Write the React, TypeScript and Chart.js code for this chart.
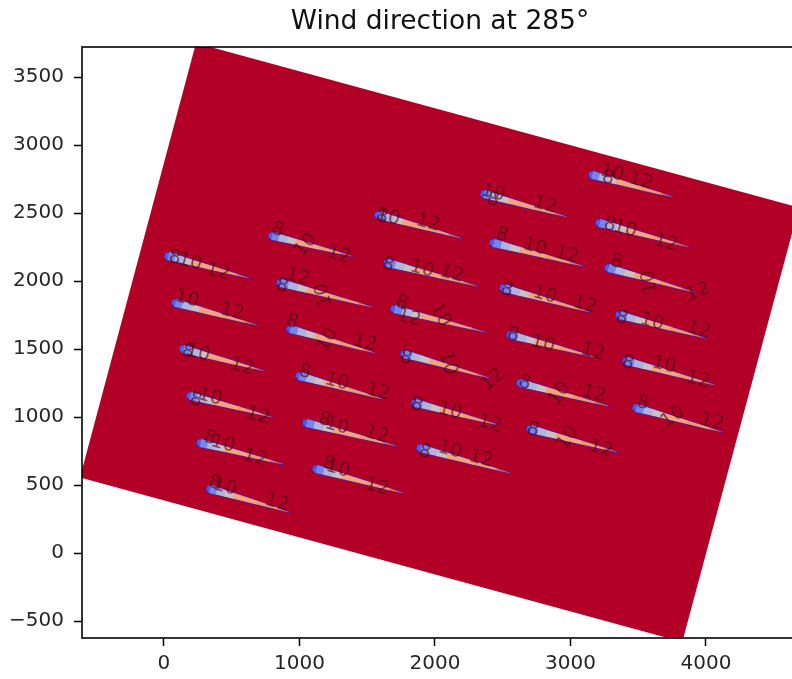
import React, { useEffect, useRef } from "react";
import { Chart, registerables } from "chart.js";

Chart.register(...registerables);

const FONT = '"DejaVu Sans", sans-serif';
const titleText = "Wind direction at 285°";
const xTicks = [0, 1000, 2000, 3000, 4000];
const yTicks = [-500, 0, 500, 1000, 1500, 2000, 2500, 3000, 3500];

// rotated simulation domain, data coordinates
const domainCorners = [
  { x: 236, y: 3750 },
  { x: 4686, y: 2541 },
  { x: 3825, y: -654 },
  { x: -620, y: 555 },
];
const domainColour = "#b20026";

// wake start and wake end per turbine: [x0, y0, x1, y1]
const wakes = [
  [7, 2191, 627, 2022], [59, 1846, 686, 1676], [118, 1507, 745, 1338],
  [170, 1162, 797, 1000], [244, 816, 878, 654], [317, 478, 923, 301],
  [775, 2338, 1387, 2184], [834, 1993, 1535, 1809], [908, 1654, 1557, 1471],
  [974, 1309, 1616, 1132], [1026, 963, 1712, 787], [1099, 625, 1764, 441],
  [1557, 2493, 2192, 2316], [1624, 2140, 2310, 1963], [1675, 1801, 2369, 1625],
  [1749, 1471, 2399, 1287], [1830, 1110, 2472, 941], [1867, 779, 2554, 588],
  [2339, 2647, 2974, 2471], [2406, 2287, 3092, 2110], [2480, 1956, 3144, 1772],
  [2531, 1610, 3181, 1441], [2605, 1257, 3277, 1081], [2679, 919, 3343, 743],
  [3137, 2787, 3756, 2618], [3188, 2434, 3875, 2250], [3255, 2103, 3911, 1919],
  [3336, 1757, 3993, 1581], [3387, 1419, 4066, 1235], [3461, 1074, 4118, 890],
];

// wake profile along its length
const wakeStations = [0, 0.04, 0.12, 0.22, 0.32, 0.6, 0.85, 1];
const wakeHalfWidths = [16, 30, 27, 24, 21, 14, 7, 1];
const wakeColours = ["#4a5cf0", "#7486ea", "#aeb4dc", "#c9c2c0", "#f2a57c", "#f0996a", "#e8764f"];
const wakeEdgeColour = "#6a1488";
const wakeEdgeExtra = 7;

// contour labels: [text, x, y, rotation in degrees]
const contourLabels: [string, number, number, number][] = [
  ["8", 81, 2169, 15], ["10", 192, 2140, 15], ["12", 399, 2066, 15],
  ["10", 170, 1868, 15], ["12", 502, 1772, 15],
  ["8", 177, 1478, 15], ["10", 251, 1471, 15], ["12", 576, 1368, 15],
  ["8", 236, 1125, 15], ["10", 339, 1147, 15], ["12", 694, 1007, 15],
  ["8", 339, 846, 15], ["10", 435, 801, 15], ["12", 672, 699, 15],
  ["8", 376, 515, 15], ["10", 450, 485, 15], ["12", 834, 368, 15],
  ["8", 841, 2375, 15], ["10", 1048, 2265, -50], ["12", 1292, 2191, 15],
  ["8", 871, 1963, 15], ["12", 989, 2029, 15], ["10", 1181, 1897, -100],
  ["8", 945, 1699, 15], ["10", 1210, 1566, -60], ["12", 1483, 1544, 15],
  ["8", 1041, 1331, 15], ["10", 1277, 1257, 15], ["12", 1579, 1184, 15],
  ["8", 1188, 978, 15], ["10", 1277, 934, 15], ["12", 1572, 868, 15],
  ["8", 1218, 654, 15], ["10", 1284, 618, 15], ["12", 1572, 485, 15],
  ["8", 1609, 2471, 15], ["10", 1653, 2471, 15], ["12", 1948, 2426, 15],
  ["8", 1653, 2118, 15], ["10", 1904, 2088, 15], ["12", 2125, 2051, 15],
  ["8", 1756, 1838, 15], ["12", 1808, 1728, 15], ["10", 2037, 1750, 60],
  ["8", 1786, 1434, 15], ["10", 2096, 1397, 75], ["12", 2428, 1272, -40],
  ["8", 1867, 1088, 15], ["10", 2111, 1044, 15], ["12", 2406, 949, 15],
  ["8", 1926, 743, 15], ["10", 2111, 757, 15], ["12", 2339, 691, 15],
  ["10", 2428, 2647, 15], ["8", 2428, 2596, 15], ["12", 2812, 2559, 15],
  ["8", 2494, 2338, 15], ["10", 2738, 2250, 15], ["12", 2974, 2191, 15],
  ["8", 2531, 1934, 15], ["10", 2812, 1897, 15], ["12", 3107, 1824, 15],
  ["8", 2576, 1603, 15], ["10", 2797, 1537, 15], ["12", 3166, 1478, 15],
  ["8", 2664, 1250, 15], ["10", 2922, 1169, -55], ["12", 3173, 1169, 15],
  ["8", 2723, 904, 15], ["10", 2982, 846, -55], ["12", 3225, 765, 15],
  ["10", 3306, 2794, 15], ["8", 3277, 2757, 15], ["12", 3520, 2735, 15],
  ["8", 3291, 2412, 15], ["10", 3402, 2382, 15], ["12", 3705, 2279, 15],
  ["8", 3343, 2140, 15], ["10", 3587, 1993, -100], ["12", 3941, 1919, -20],
  ["8", 3380, 1728, 15], ["10", 3601, 1699, 15], ["12", 3948, 1640, 15],
  ["8", 3424, 1397, 15], ["10", 3690, 1382, 15], ["12", 3941, 1272, 15],
  ["8", 3535, 1103, 15], ["10", 3756, 1000, -35], ["12", 4044, 963, 15],
];

function polygon(points: { x: number; y: number }[], colour: string) {
  return {
    type: "line" as const,
    data: [...points, points[0]],
    parsing: false,
    fill: "shape",
    backgroundColor: colour,
    borderColor: colour,
    borderWidth: 0,
    pointRadius: 0,
    tension: 0,
  };
}

function wakeDatasets(wake: number[]) {
  const [x0, y0, x1, y1] = wake;
  const dx = x1 - x0;
  const dy = y1 - y0;
  const len = Math.hypot(dx, dy);
  const nx = -dy / len;
  const ny = dx / len;
  const at = (s: number, w: number) => ({
    x: x0 + dx * s + nx * w,
    y: y0 + dy * s + ny * w,
  });
  const out: any[] = [];
  const top = wakeStations.map((s, i) => at(s, wakeHalfWidths[i] + wakeEdgeExtra));
  const bottom = wakeStations.map((s, i) => at(s, -wakeHalfWidths[i] - wakeEdgeExtra)).reverse();
  out.push(polygon([at(-0.012, 0), ...top, at(1.03, 0), ...bottom], wakeEdgeColour));
  wakeColours.forEach((colour, i) => {
    const a = wakeStations[i];
    const b = wakeStations[i + 1];
    const overlap = Math.min(b + 0.01, 1);
    out.push(
      polygon(
        [
          at(a, wakeHalfWidths[i]),
          at(overlap, wakeHalfWidths[i + 1]),
          at(overlap, -wakeHalfWidths[i + 1]),
          at(a, -wakeHalfWidths[i]),
        ],
        colour,
      ),
    );
  });
  return out;
}

const overlayPlugin = {
  id: "overlay",
  afterDatasetsDraw(chart: any) {
    const { ctx, chartArea, scales } = chart;
    ctx.save();
    ctx.beginPath();
    ctx.rect(chartArea.left, chartArea.top, chartArea.right - chartArea.left, chartArea.bottom - chartArea.top);
    ctx.clip();
    ctx.font = `19px ${FONT}`;
    ctx.fillStyle = "rgba(75,0,15,0.62)";
    ctx.textAlign = "center";
    ctx.textBaseline = "middle";
    for (const [text, x, y, rot] of contourLabels) {
      ctx.save();
      ctx.translate(scales.x.getPixelForValue(x), scales.y.getPixelForValue(y));
      ctx.rotate((rot * Math.PI) / 180);
      ctx.fillText(text, 0, 0);
      ctx.restore();
    }
    ctx.restore();
    ctx.save();
    ctx.strokeStyle = "#000";
    ctx.lineWidth = 1.6;
    ctx.strokeRect(chartArea.left, chartArea.top, chartArea.right - chartArea.left, chartArea.bottom - chartArea.top);
    ctx.restore();
  },
};

export default function App() {
  const ref = useRef<HTMLCanvasElement>(null);
  useEffect(() => {
    if (!ref.current) return;
    const datasets: any[] = [polygon(domainCorners, domainColour)];
    wakes.forEach((w) => datasets.push(...wakeDatasets(w)));
    // line datasets are painted last-to-first, so reverse to paint the domain first
    datasets.reverse();
    const fmt = (v: any) => String(v).replace("-", "\u2212");
    const tickStyle = { color: "#262626", font: { family: FONT, size: 20 }, padding: 10, maxRotation: 0, autoSkip: false };
    const gridStyle = { drawOnChartArea: false, tickLength: 8, tickColor: "#000", tickWidth: 1.5 };
    const chart = new Chart(ref.current, {
      type: "line",
      data: { datasets },
      plugins: [overlayPlugin],
      options: {
        animation: false,
        responsive: false,
        layout: { padding: 0 },
        plugins: {
          legend: { display: false },
          tooltip: { enabled: false },
          title: {
            display: true,
            text: titleText,
            color: "#111",
            font: { family: FONT, size: 26.5, weight: "normal", lineHeight: 1.2 },
            padding: { top: 6, bottom: 9.2 },
          },
        },
        scales: {
          x: {
            type: "linear",
            min: -605,
            max: 4679,
            grid: gridStyle,
            border: { display: false },
            ticks: { ...tickStyle, padding: 6, callback: fmt },
            afterBuildTicks: (s: any) => { s.ticks = xTicks.map((value) => ({ value })); },
            afterFit: (s: any) => { s.height = 41; },
          },
          y: {
            type: "linear",
            min: -625,
            max: 3721,
            grid: gridStyle,
            border: { display: false },
            ticks: { ...tickStyle, callback: fmt },
            afterBuildTicks: (s: any) => { s.ticks = yTicks.map((value) => ({ value })); },
            afterFit: (s: any) => { s.width = 82; },
          },
          // empty margin on the right that keeps the axes box and the title centred as in the picture
          margin: {
            type: "linear",
            position: "right",
            grid: { display: false },
            border: { display: false },
            ticks: { display: false },
            afterFit: (s: any) => { s.width = 82; },
          },
        },
      },
    } as any);
    return () => chart.destroy();
  }, []);
  return (
    <div style={{ position: "absolute", left: 0, top: 0, width: 792, height: 679, overflow: "hidden", background: "#fff" }}>
      <canvas ref={ref} width={880} height={679} style={{ display: "block", width: 880, height: 679, filter: "blur(0.45px)" }} />
    </div>
  );
}
